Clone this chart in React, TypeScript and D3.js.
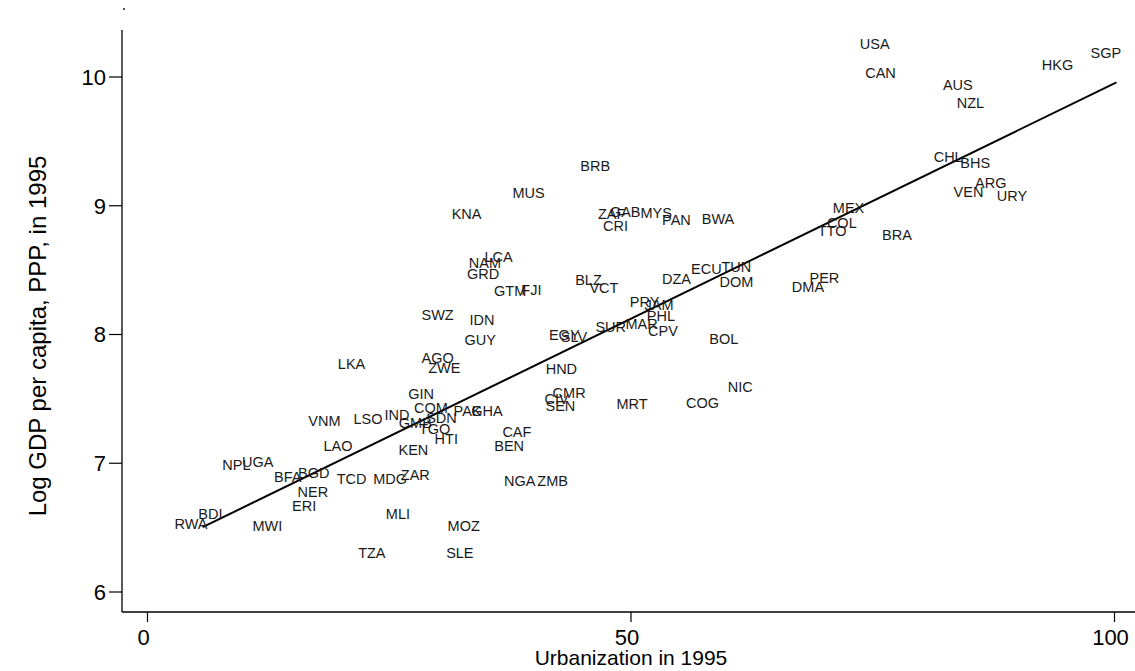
import React from "react";
import * as d3 from "d3";

const countries = ["USA","CAN","AUS","NZL","HKG","SGP","CHL","BHS","ARG","VEN","URY","MEX","COL","TTO","BRA","BRB","MUS","KNA","ZAF","GAB","MYS","CRI","PAN","BWA","LCA","NAM","GRD","GTM","FJI","BLZ","VCT","DZA","ECU","TUN","DOM","PER","DMA","PRY","JAM","PHL","SUR","MAR","CPV","BOL","SWZ","IDN","GUY","EGY","SLV","LKA","AGO","ZWE","HND","GIN","COM","CMR","CIV","SEN","MRT","COG","NIC","VNM","LSO","IND","GMB","SDN","PAK","GHA","TGO","HTI","CAF","BEN","LAO","KEN","NPL","UGA","BFA","BGD","TCD","MDG","ZAR","NER","ERI","NGA","ZMB","BDI","RWA","MWI","MLI","MOZ","TZA","SLE"];
const urban = [75.2,75.8,83.8,85.1,94.1,99.1,82.8,85.6,87.2,84.9,89.4,72.5,71.8,70.8,77.5,46.3,39.4,33.0,48.0,49.4,52.6,48.4,54.7,59.0,36.3,34.9,34.7,37.5,39.7,45.6,47.2,54.7,57.8,60.9,60.9,70.0,68.3,51.4,52.9,53.1,47.9,51.1,53.3,59.6,30.0,34.6,34.4,43.1,44.1,21.1,30.0,30.7,42.8,28.3,29.3,43.6,42.3,42.7,50.1,57.4,61.3,18.3,22.8,25.8,27.7,30.4,33.1,35.1,29.7,30.9,38.2,37.4,19.7,27.5,9.2,11.4,14.5,17.2,21.1,25.1,27.7,17.1,16.2,38.5,41.9,6.5,4.5,12.4,25.9,32.7,23.2,32.3];
const logGdp = [10.256,10.033,9.938,9.798,10.097,10.19,9.381,9.33,9.179,9.111,9.076,8.988,8.866,8.806,8.773,9.311,9.097,8.936,8.936,8.954,8.948,8.843,8.889,8.897,8.604,8.559,8.468,8.34,8.346,8.423,8.364,8.429,8.514,8.528,8.41,8.439,8.371,8.256,8.233,8.144,8.061,8.082,8.03,7.97,8.151,8.118,7.957,7.996,7.983,7.776,7.82,7.742,7.734,7.536,7.433,7.548,7.497,7.447,7.46,7.47,7.595,7.328,7.349,7.375,7.315,7.357,7.408,7.408,7.266,7.192,7.245,7.134,7.134,7.103,6.986,7.012,6.897,6.928,6.883,6.883,6.909,6.779,6.668,6.862,6.862,6.611,6.528,6.513,6.611,6.515,6.301,6.305];

const xTicks = [0, 50, 100];
const yTicks = [6, 7, 8, 9, 10];
const fitIntercept = 6.295;
const fitSlope = 0.03656;
const fitRange = [5.7, 100.2];

const W = 1135;
const H = 671;
const FONT = "'Liberation Sans', Arial, Helvetica, sans-serif";

export default function App() {
  const x = d3.scaleLinear().domain([0, 100]).range([147.5, 1114.5]);
  const y = d3.scaleLinear().domain([6, 10]).range([592, 77]);
  const axisX = 122;
  const axisY = 612;
  const line = d3
    .line<number>()
    .x((d) => x(d))
    .y((d) => y(fitIntercept + fitSlope * d));

  return (
    <svg
      width={W}
      height={H}
      style={{ position: "absolute", left: 0, top: 0, background: "#fff" }}
      fontFamily={FONT}
    >
      <rect x={0} y={0} width={W} height={H} fill="#fff" />
      <circle cx={124} cy={9} r={1} fill="#222" />
      {/* axes */}
      <line x1={axisX} y1={30} x2={axisX} y2={axisY} stroke="#000" strokeWidth={1.3} />
      <line x1={axisX} y1={axisY} x2={W} y2={axisY} stroke="#000" strokeWidth={1.3} />
      {yTicks.map((t) => (
        <g key={"y" + t}>
          <line x1={axisX - 13} y1={y(t)} x2={axisX} y2={y(t)} stroke="#000" strokeWidth={1.2} />
          <text x={axisX - 16} y={y(t)} dy="0.36em" textAnchor="end" fontSize={22} fill="#000">
            {t}
          </text>
        </g>
      ))}
      {xTicks.map((t) => (
        <g key={"x" + t}>
          <line x1={x(t)} y1={axisY} x2={x(t)} y2={axisY + 10} stroke="#000" strokeWidth={1.2} />
          <text x={x(t) - 4} y={axisY + 25} dy="0.36em" textAnchor="middle" fontSize={22} fill="#000">
            {t}
          </text>
        </g>
      ))}
      <text x={631} y={657} dy="0.36em" textAnchor="middle" fontSize={21} fill="#000">
        Urbanization in 1995
      </text>
      <text
        transform={`translate(37,336) rotate(-90)`}
        dy="0.36em"
        textAnchor="middle"
        fontSize={24}
        fill="#000"
      >
        Log GDP per capita, PPP, in 1995
      </text>
      {/* fit line */}
      <path d={line(fitRange) || ""} fill="none" stroke="#000" strokeWidth={2} />
      {/* labels */}
      {countries.map((c, i) => (
        <text
          key={c}
          x={x(urban[i])}
          y={y(logGdp[i])}
          dy="0.36em"
          textAnchor="middle"
          fontSize={14.5}
          fill="#1a1a1a"
        >
          {c}
        </text>
      ))}
    </svg>
  );
}
